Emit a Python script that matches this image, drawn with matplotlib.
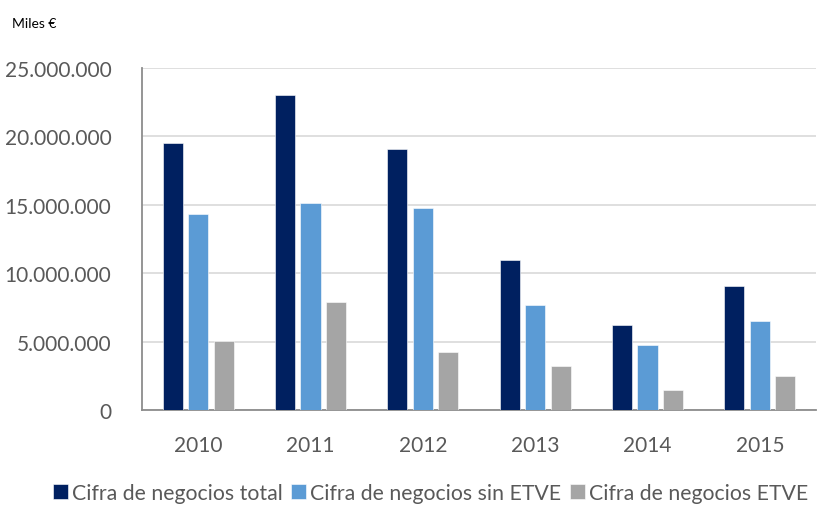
import matplotlib.pyplot as plt
import matplotlib.ticker as mticker
import numpy as np

plt.rcParams['font.family'] = ['Lato', 'DejaVu Sans']

years = ['2010', '2011', '2012', '2013', '2014', '2015']
total = [19510000, 23050000, 19100000, 10980000, 6220000, 9070000]
sin_etve = [14340000, 15120000, 14760000, 7680000, 4730000, 6540000]
etve = [5070000, 7880000, 4240000, 3220000, 1440000, 2490000]

labels = ['Cifra de negocios total', 'Cifra de negocios sin ETVE', 'Cifra de negocios ETVE']
colors = ['#002060', '#5B9BD5', '#A5A5A5']

fig = plt.figure(figsize=(8.17, 5.06), dpi=100)
ax = fig.add_axes([0.1738, 0.1877, 0.825, 0.6759])

x = np.arange(len(years))
w = 0.18
step = 0.227
for i, (vals, lab, col) in enumerate(zip([total, sin_etve, etve], labels, colors)):
    ax.bar(x + (i - 1) * step, vals, width=w, color=col, label=lab,
           edgecolor='white', linewidth=0.4, zorder=3)

ax.set_xlim(-0.5, len(years) - 0.5)
ax.set_ylim(0, 25000000)
ax.set_yticks(np.arange(0, 25000001, 5000000))
ax.yaxis.set_major_formatter(mticker.FuncFormatter(lambda v, p: f'{int(v):,}'.replace(',', '.')))
ax.set_xticks(x)
ax.set_xticklabels(years)
ax.tick_params(axis='both', length=0, labelsize=15, colors='#595959')
ax.tick_params(axis='x', pad=18)
ax.tick_params(axis='y', pad=22)
ax.grid(axis='y', color='#D9D9D9', linewidth=1.2, zorder=0)
for s in ['top', 'right']:
    ax.spines[s].set_visible(False)
for s in ['left', 'bottom']:
    ax.spines[s].set_color('#8C8C8C')
    ax.spines[s].set_linewidth(1.3)

fig.text(0.015, 0.9526, 'Miles €', fontsize=10, color='black', va='center')

fig.legend(loc='center', bbox_to_anchor=(0.527, 0.024), ncol=3, frameon=False,
           fontsize=15.3, handlelength=0.7, handleheight=0.7, handletextpad=0.2,
           columnspacing=0.4, labelcolor='#595959')

fig.savefig('out.png', dpi=100)
